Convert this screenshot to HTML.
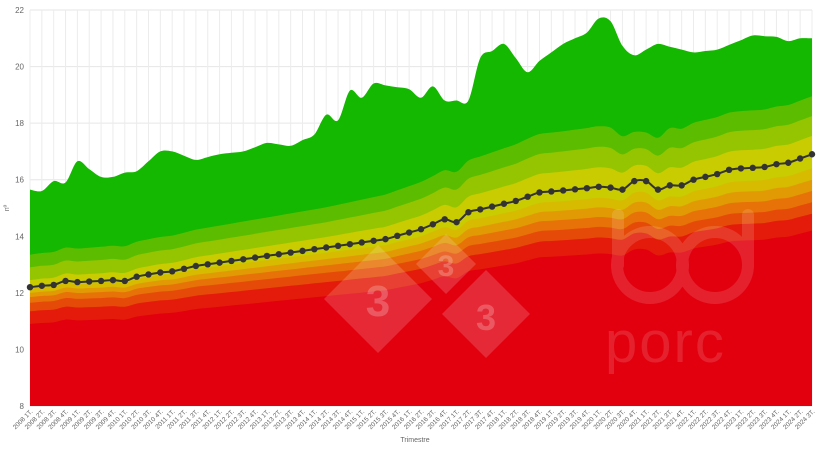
<!DOCTYPE html>
<html><head><meta charset="utf-8"><style>
html,body{margin:0;padding:0;background:#fff}
svg{display:block;font-family:"Liberation Sans",sans-serif}
</style></head><body>
<svg id="c" width="820" height="449" viewBox="0 0 820 449"></svg>
<script>
(function(){
const N=67,X0=30,X1=812;
const dx=(X1-X0)/(N-1);
const X=i=>X0+dx*i;
const Y=v=>406-(v-8)*(396/14);
function interp(kf){const a=[];for(let i=0;i<N;i++){let k=0;while(k<kf.length-2&&kf[k+1][0]<=i)k++;const a0=kf[k],a1=kf[k+1];a.push(a0[1]+(a1[1]-a0[1])*(i-a0[0])/(a1[0]-a0[0]));}return a;}
const med=[12.2,12.25,12.28,12.42,12.38,12.4,12.42,12.45,12.42,12.57,12.65,12.72,12.76,12.85,12.95];
const medK=interp([[0,12.2],[14,12.95],[30,13.9],[33,14.25],[35,14.6],[36,14.5],[37,14.85],[39,15.05],[41,15.25],[43,15.55],[45,15.62],[47,15.7],[48,15.75],[49,15.72],[50,15.65],[51,15.95],[52,15.95],[53,15.65],[54,15.8],[55,15.8],[56,16.0],[57,16.1],[58,16.2],[59,16.35],[60,16.4],[61,16.42],[62,16.45],[63,16.55],[64,16.6],[66,16.9]]);
const m=[];for(let i=0;i<N;i++)m.push(i<15?med[i]:medK[i]);
const topB=interp([[0,15.65],[1,15.6],[2,15.95],[3,15.9],[4,16.65],[6,16.1],[7,16.1],[8,16.25],[9,16.3],[11,17.0],[12,17.0],[14,16.7],[16,16.9],[18,17.0],[20,17.3],[22,17.2],[23,17.4],[24,17.6],[25,18.3],[26,18.1],[27,19.15],[28,18.9],[29,19.4],[32,19.2],[33,18.9],[34,19.3],[35,18.8],[37,18.8],[38,20.3],[40,20.8],[42,19.8],[43,20.2],[45,20.8],[47,21.2],[48,21.7],[49,21.6],[50.5,20.3],[53,20.8],[56,20.5],[58,20.6],[61,21.1],[63,21.05],[64,20.9],[65,21.0],[66,21.0]]);
const g=interp([[0,0],[14,0.15],[25,0.3],[35,0.65],[42,1.0],[48,1.1],[55,0.95],[66,1.0]]);
const offS=[-1.3,-0.85,-0.55,-0.35,-0.2,-0.05,0.25,0.7,1.15];
const offE=[-2.7,-2.1,-1.7,-1.3,-0.9,-0.5,0.65,1.35,2.05];
const bounds=offS.map((s0,k)=>m.map((mv,i)=>{const f=k>=6?g[i]:(mv-12.2)/4.7;let o=s0+(offE[k]-s0)*f;
 if(k>=6&&i>=49&&i<=54){o-=(k-5)*0.12*Math.sin((i-49)/5*Math.PI);}
 return mv+o;}));
bounds.push(topB);
const cols=["#e2000f","#e41b0a","#e64a08","#e77207","#e19a04","#d7bb00","#c8cc00","#95c500","#5cbd00","#15b800"];
function path(vals){const p=vals.map((v,i)=>[X(i),Y(v)]);let d="";for(let i=0;i<p.length-1;i++){const p0=p[Math.max(0,i-1)],p1=p[i],p2=p[i+1],p3=p[Math.min(p.length-1,i+2)];
 const c1=[p1[0]+(p2[0]-p0[0])/6,p1[1]+(p2[1]-p0[1])/6],c2=[p2[0]-(p3[0]-p1[0])/6,p2[1]-(p3[1]-p1[1])/6];
 if(i==0)d+="M"+p1[0].toFixed(1)+","+p1[1].toFixed(1);d+="C"+c1[0].toFixed(1)+","+c1[1].toFixed(1)+" "+c2[0].toFixed(1)+","+c2[1].toFixed(1)+" "+p2[0].toFixed(1)+","+p2[1].toFixed(1);}return d;}
let s="";
for(let v=8;v<=22;v+=2){s+=`<line x1="${X0}" x2="${X1}" y1="${Y(v)}" y2="${Y(v)}" stroke="#e6e6e6"/><text x="${X0-6}" y="${Y(v)+3}" font-size="8" fill="#666" text-anchor="end">${v}</text>`;}
for(let i=0;i<N;i++)s+=`<line x1="${X(i)}" x2="${X(i)}" y1="${Y(22)}" y2="${Y(8)}" stroke="#ececec"/>`;
for(let k=bounds.length-1;k>=0;k--){s+=`<path d="${path(bounds[k])}L${X1},406L${X0},406Z" fill="${cols[k]}"/>`;}
s+=`<g fill="#fff" opacity="0.16">
<polygon points="378,245 432,299 378,353 324,299"/><polygon points="446,234 476,264 446,294 416,264"/><polygon points="486,270 530,314 486,358 442,314"/>
</g><g fill="#fff" opacity="0.22" font-weight="bold" text-anchor="middle"><text x="378" y="316" font-size="44">3</text><text x="446" y="276" font-size="30">3</text><text x="486" y="330" font-size="36">3</text></g>
<g fill="none" stroke="#fff" stroke-width="12" opacity="0.13" stroke-linecap="round"><circle cx="650" cy="265" r="33"/><line x1="618" y1="215" x2="618" y2="265"/><circle cx="715" cy="265" r="33"/><line x1="748" y1="215" x2="748" y2="265"/></g>
<text x="605" y="362" font-size="58" fill="#fff" opacity="0.13" letter-spacing="2">porc</text>`;
s+=`<path d="${path(m)}" fill="none" stroke="#333" stroke-width="2"/>`;
for(let i=0;i<N;i++)s+=`<circle cx="${X(i)}" cy="${Y(m[i])}" r="3.2" fill="#333"/>`;
for(let i=0;i<N;i++){const yr=2008+Math.floor(i/4),q=i%4+1;s+=`<text transform="translate(${X(i)+3},412) rotate(-45)" font-size="6.5" fill="#666" text-anchor="end">${yr} ${q}T.</text>`;}
s+=`<text x="415" y="442" font-size="7" fill="#666" text-anchor="middle">Trimestre</text>`;
s+=`<text transform="translate(9,208) rotate(-90)" font-size="7" fill="#666" text-anchor="middle">nº</text>`;
document.getElementById("c").innerHTML=s;
})();
</script>
</body></html>
